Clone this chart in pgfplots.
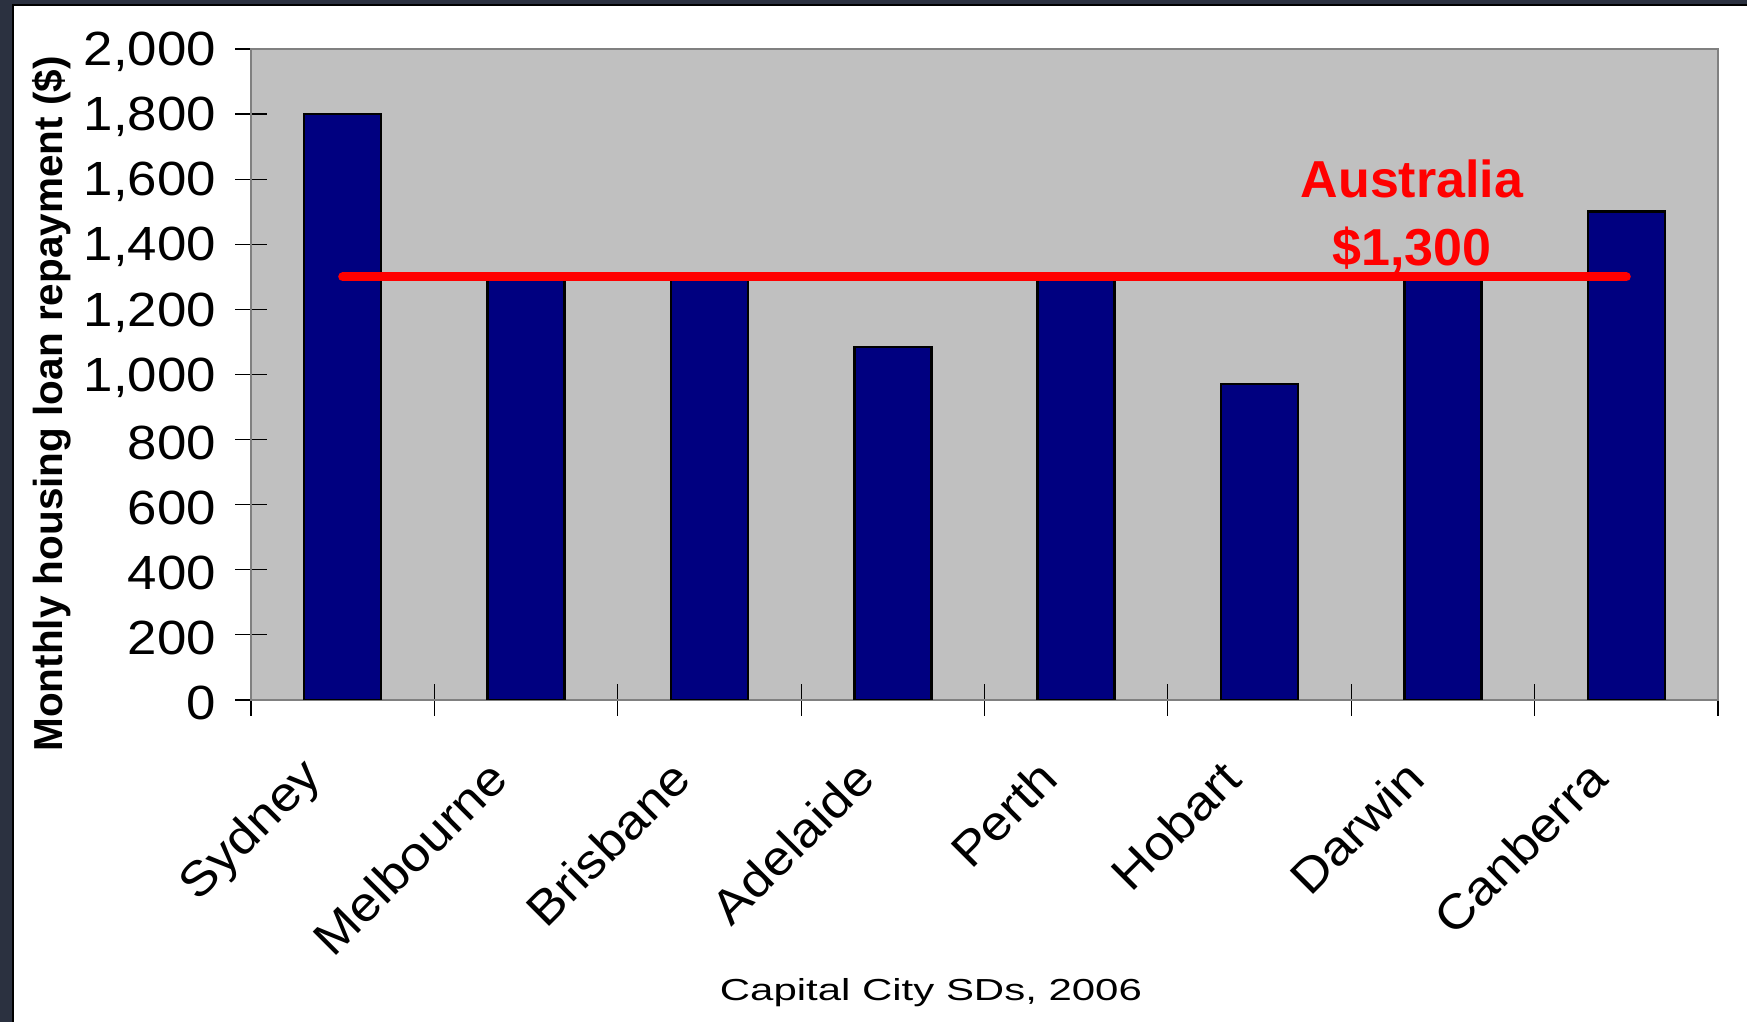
\documentclass[border=0pt]{standalone}
\usepackage{pgfplots}
\pgfplotsset{compat=1.18}
\usepackage{fontspec}
\setmainfont{Liberation Sans}
\newfontfamily\tickfont[FakeStretch=1.1]{Liberation Sans}
\newfontfamily\xlabfont[FakeStretch=1.38]{Liberation Sans}
\definecolor{navybar}{HTML}{000080}
\definecolor{plotbg}{HTML}{C0C0C0}
\definecolor{slidebg}{HTML}{2B3140}
\begin{document}
\begin{tikzpicture}
\fill[slidebg] (0,0) rectangle (873.5pt,511pt);
\fill[white] (6.5pt,0) rectangle (873.5pt,508.5pt);
\draw[black, line width=0.8pt] (6.5pt,0) -- (6.5pt,508.5pt) -- (873.5pt,508.5pt);
\begin{axis}[
  at={(125.5pt,161pt)}, anchor=south west,
  scale only axis, width=733.5pt, height=325.5pt,
  xmin=-0.5, xmax=7.5, ymin=0, ymax=2000,
  axis background/.style={fill=plotbg},
  axis line style={draw=gray, line width=1pt},
  tick pos=left, tick align=center,
  major tick length=16pt, minor tick length=16pt,
  tick style={black, line width=0.6pt},
  every major x tick/.append style={draw=none},
  xtick={0,...,7},
  xticklabels={Sydney,Melbourne,Brisbane,Adelaide,Perth,Hobart,Darwin,Canberra},
  minor xtick={-0.5,0.5,...,7.5},
  ytick={0,200,...,2000},
  /pgf/number format/1000 sep={,},
  /pgf/number format/assume math mode=true,
  yticklabel style={font=\tickfont\fontsize{24}{28}\selectfont, xshift=-6pt, yshift=-1.5pt},
  xticklabel style={font=\tickfont\fontsize{24}{28}\selectfont, xshift=-11.5pt, yshift=-24.3pt, rotate=45, anchor=east},
  xlabel={Capital City SDs, 2006},
  ylabel={Monthly housing loan repayment (\$)},
  every axis x label/.style={at={(axis description cs:0.4635,-0.461)}, anchor=base, font=\xlabfont\fontsize{15.2}{18}\selectfont},
  every axis y label/.style={at={(axis description cs:-0.1288,0.4547)}, rotate=90, anchor=base, font=\bfseries\fontsize{20.25}{24}\selectfont},
]
\addplot[ybar, bar width=0.42, fill=navybar, draw=black, line width=1.3pt]
  coordinates {(0,1800) (1,1300) (2,1300) (3,1085) (4,1300) (5,971) (6,1300) (7,1500)};
\addplot[red, line width=4.5pt, line cap=round] coordinates {(0,1300) (7,1300)};
\node[anchor=base, text=red, font=\bfseries\fontsize{26}{30}\selectfont] at (axis cs:5.831,1545) {Australia};
\node[anchor=base, text=red, font=\bfseries\fontsize{26}{30}\selectfont] at (axis cs:5.831,1336) {\$1,300};
\end{axis}
\pgfresetboundingbox
\useasboundingbox (0,0) rectangle (873.5pt,511pt);
\end{tikzpicture}
\end{document}
